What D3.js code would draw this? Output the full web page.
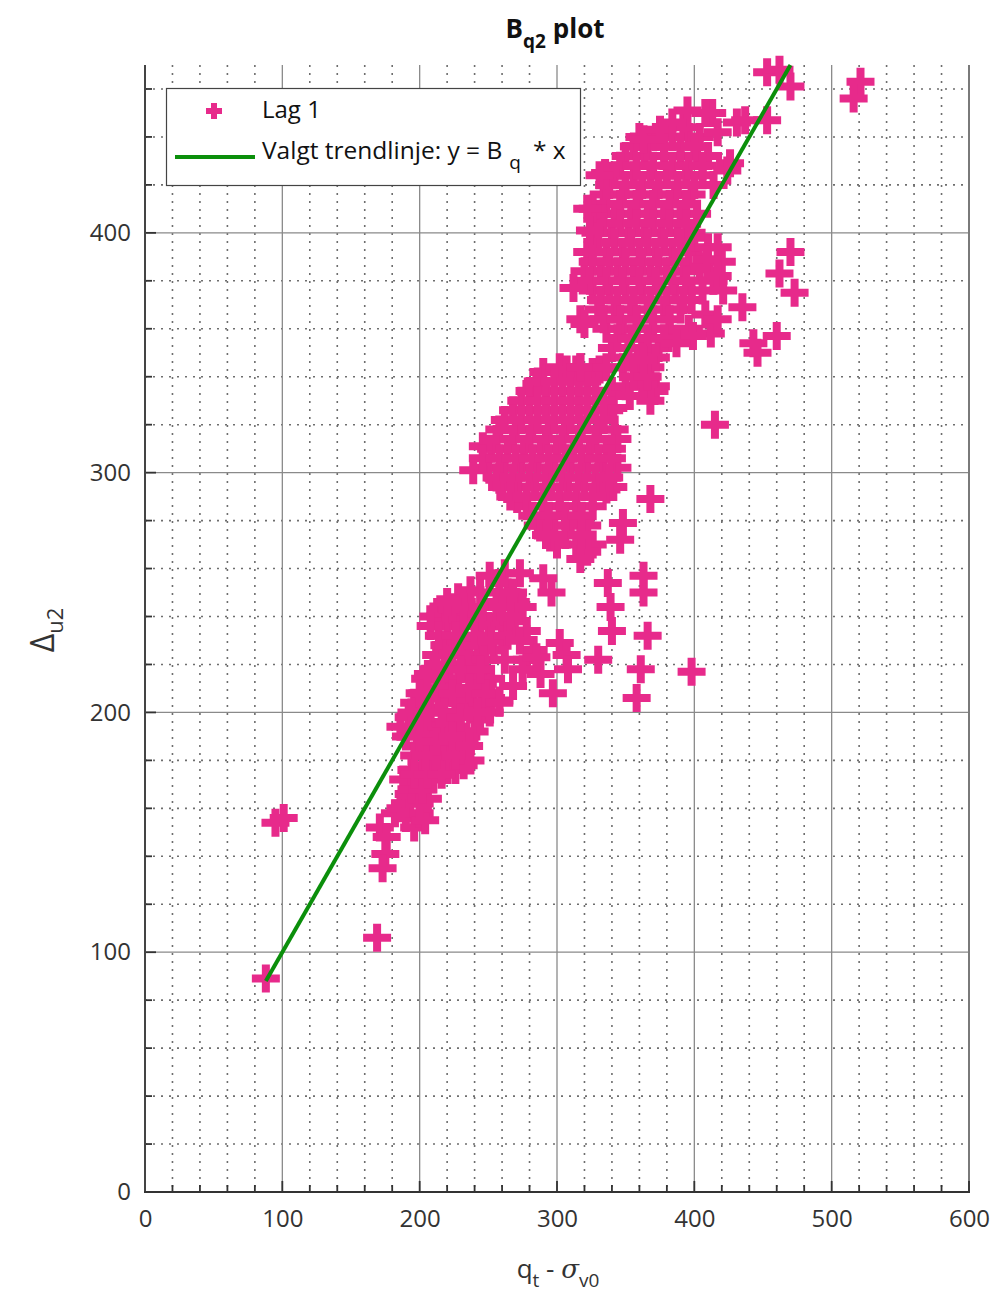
<!DOCTYPE html>
<html><head><meta charset="utf-8">
<script src="https://cdn.jsdelivr.net/npm/d3@7"></script>
<style>body{margin:0;background:#fff}</style>
</head><body><svg id="c" width="1007" height="1292"></svg>
<script>
const xTickValues = [0, 100, 200, 300, 400, 500, 600];
const yTickValues = [0, 100, 200, 300, 400];
const xDomain = [0, 600];
const yDomain = [0, 470];
const trendX = [88, 470];
const Bq = 1.0;
const seriesName = "Lag 1";

// Lag 1 points: [q_t - sigma_v0, Delta_u2]
const lagIsolated = [[88,89],[95,154],[101,156],[169,106],[171,152],[175,141],[173,135],[176,148],[182,158]];
const lagLower = [
 [186,160],[190,156],[196,152],[200,158],[204,155],[192,166],[198,170],[206,164],[188,172],[194,176],[202,178],[210,172],
 [200,186],[208,184],[214,180],[220,176],[226,176],[232,178],[237,180],[218,186],[224,188],[230,184],
 [186,194],[192,198],[198,192],[204,196],[210,190],[216,194],[222,196],[228,192],[234,190],[240,192],[244,197],
 [196,204],[202,208],[208,202],[214,206],[220,210],[226,204],[232,206],[238,202],[246,204],[252,206],[258,205],
 [204,214],[210,218],[216,214],[222,218],[228,214],[234,220],[240,216],[246,212],[252,214],[251,200],
 [212,224],[218,228],[224,226],[230,230],[236,224],[242,228],[248,222],[254,226],[260,230],
 [215,243],[210,240],[220,238],[226,240],[232,236],[238,242],[244,238],[250,236],[256,240],[262,236],[268,238],
 [228,248],[237,251],[244,250],[251,257],[258,254],[264,250],[270,246],[262,258],[256,246],[208,236],[224,243]
];
const lagLowerFill = [
 [190,162],[200,162],[194,168],[202,168],[196,174],[206,174],[216,174],[196,182],[204,182],[212,182],[226,182],
 [190,190],[200,190],[212,188],[224,190],[236,186],[194,200],[206,200],[218,200],[230,198],[242,200],
 [200,208],[212,210],[224,208],[236,210],[248,208],[206,216],[218,220],[230,218],[244,218],
 [214,232],[226,232],[240,232],[252,230],[264,232],[232,244],[246,244],[260,244],[220,246]
];
const lagLowerRight = [
 [290,256],[296,250],[337,254],[363,257],[363,250],[339,244],[340,234],[366,232],[302,229],[307,224],
 [330,222],[308,218],[361,218],[398,217],[297,208],[358,206],[278,222],[283,226],[288,216],[275,218],
 [285,223],[273,258],[268,250],[275,244],[266,240],[278,234],[273,230],[258,204],[268,211],[262,222]
];
const lagMiddle = [
 [290,342],[302,344],[314,343],[326,342],[307,343],[317,344],[331,343],[285,337],
 [280,334],[292,334],[304,334],[316,334],[328,334],[340,334],
 [268,326],[280,326],[292,326],[304,326],[316,326],[328,326],[338,326],[341,327],
 [258,318],[270,318],[282,318],[294,318],[306,318],[318,318],[330,318],[342,318],
 [252,310],[264,310],[276,310],[288,310],[300,310],[312,310],[324,310],[336,310],[246,311],[344,314],
 [250,302],[262,302],[274,302],[286,302],[298,302],[310,302],[322,302],[334,302],[344,302],[239,301],
 [258,297],[260,294],[272,294],[284,294],[296,294],[308,294],[320,294],[332,294],[336,293],[341,294],
 [271,289],[278,286],[290,286],[302,286],[314,286],[326,286],[368,289],
 [286,278],[298,278],[310,278],[322,278],[290,279],[317,279],[348,279],
 [300,270],[314,270],[326,270],[295,273],[346,272],[322,267],[317,264]
];
const lagMiddleFill = [
 [286,338],[298,338],[310,338],[322,338],
 [274,330],[286,330],[298,330],[310,330],[322,330],[334,330],
 [262,322],[274,322],[286,322],[298,322],[310,322],[322,322],[334,322],
 [256,314],[268,314],[280,314],[292,314],[304,314],[316,314],[328,314],[340,310],
 [246,306],[258,306],[270,306],[282,306],[294,306],[306,306],[318,306],[330,306],[340,306],
 [256,298],[268,298],[280,298],[292,298],[304,298],[316,298],[328,298],[338,298],
 [266,290],[278,290],[290,290],[302,290],[314,290],[326,290],
 [282,282],[294,282],[306,282],[318,282],[292,274],[306,274],[318,274]
];
const lagUpper = [
 [360,440],[372,440],[384,440],[396,440],[404,440],[392,444],
 [350,432],[364,432],[378,432],[390,432],[402,432],[410,432],
 [342,424],[356,424],[368,424],[380,424],[394,424],[406,424],
 [334,416],[348,416],[360,416],[372,416],[386,416],[398,416],
 [330,408],[342,408],[354,408],[366,408],[378,408],[390,408],[402,408],
 [328,400],[340,400],[352,400],[364,400],[376,400],[388,400],[398,400],
 [322,392],[336,392],[348,392],[360,392],[372,392],[384,392],[396,392],
 [320,384],[332,384],[344,384],[356,384],[368,384],[380,384],[392,384],
 [326,376],[338,376],[350,376],[362,376],[374,376],[386,376],[398,376],
 [330,368],[342,368],[354,368],[366,368],[378,368],[390,368],
 [336,360],[348,360],[358,360],[370,360],[382,360],
 [340,352],[352,352],[362,352],[374,352],
 [348,344],[358,344],[368,344],[350,336],[362,336],[372,336],[353,332],[371,334],[368,330],[366,351],[363,337],
 [400,398],[410,394],[404,386],[414,380],[398,372],[408,366],[420,388],[396,360],[412,358]
];
const lagUpperFill = [
 [356,436],[366,436],[378,436],[390,436],[400,436],
 [346,428],[358,428],[370,428],[384,428],[396,428],[406,428],
 [338,420],[350,420],[362,420],[374,420],[388,420],[400,420],
 [336,412],[346,412],[358,412],[370,412],[382,412],[394,412],
 [334,404],[346,404],[358,404],[370,404],[382,404],[394,404],
 [330,396],[342,396],[354,396],[366,396],[378,396],[390,396],
 [326,388],[338,388],[350,388],[362,388],[374,388],[386,388],
 [324,380],[336,380],[348,380],[360,380],[372,380],[384,380],[394,380],
 [332,372],[344,372],[356,372],[368,372],[380,372],[392,372],
 [334,364],[346,364],[358,364],[370,364],[382,364],
 [344,356],[354,356],[366,356],[378,356],[352,348],[362,348],[372,348],[356,340],[366,340]
];
const lagUpperEdge = [
 [453,467],[470,461],[521,463],[516,456],[431,446],[453,447],[413,450],[395,451],[417,442],[426,429],
 [363,439],[335,425],[326,410],[375,443],[384,446],[414,420],[417,394],[409,389],[417,382],[406,376],
 [421,376],[470,392],[462,383],[473,375],[435,369],[417,364],[399,357],[387,354],[443,354],[460,357],
 [446,350],[317,364],[312,377],[322,410],[326,392],[317,344],[336,344],[363,347],[415,320],[331,424],
 [324,401],[320,362],[408,450],[424,426],[437,447],[462,468]
];

const plot = {left: 145, right: 969, top: 65, bottom: 1192};
const pink = "#e72a8b", green = "#0b8f0b", textCol = "#333";
const fontFam = "'Open Sans', 'Noto Sans', sans-serif";

const svg = d3.select("#c");
const x = d3.scaleLinear().domain(xDomain).range([plot.left, plot.right]);
const y = d3.scaleLinear().domain(yDomain).range([plot.bottom, plot.top]);

// grid
const g = svg.append("g");
const xMinor = d3.range(20, 600, 20).filter(v => v % 100 !== 0);
const yMinor = d3.range(20, 471, 20).filter(v => v % 100 !== 0);
g.selectAll(".xm").data(xMinor).join("line")
  .attr("x1", d => x(d)).attr("x2", d => x(d)).attr("y1", plot.top).attr("y2", plot.bottom)
  .attr("stroke", "#6e6e6e").attr("stroke-width", 1.6).attr("stroke-dasharray", "2,6");
g.selectAll(".ym").data(yMinor).join("line")
  .attr("y1", d => y(d)).attr("y2", d => y(d)).attr("x1", plot.left).attr("x2", plot.right)
  .attr("stroke", "#6e6e6e").attr("stroke-width", 1.6).attr("stroke-dasharray", "2,6");
g.selectAll(".xM").data(xTickValues.slice(1, -1)).join("line")
  .attr("x1", d => x(d)).attr("x2", d => x(d)).attr("y1", plot.top).attr("y2", plot.bottom)
  .attr("stroke", "#8a8a8a").attr("stroke-width", 1.3);
g.selectAll(".yM").data(yTickValues.slice(1)).join("line")
  .attr("y1", d => y(d)).attr("y2", d => y(d)).attr("x1", plot.left).attr("x2", plot.right)
  .attr("stroke", "#8a8a8a").attr("stroke-width", 1.3);

// right border
svg.append("line").attr("x1", plot.right).attr("x2", plot.right).attr("y1", plot.top).attr("y2", plot.bottom)
  .attr("stroke", "#7a7a7a").attr("stroke-width", 2);

// points
const allPts = [].concat(lagIsolated, lagLower, lagLowerFill, lagLowerRight, lagMiddle, lagMiddleFill, lagUpper, lagUpperFill, lagUpperEdge);
svg.append("g").selectAll("path").data(allPts).join("path")
  .attr("transform", d => `translate(${x(d[0])},${y(d[1])})`)
  .attr("d", "M-14,0H14M0,-14V14")
  .attr("stroke", pink).attr("stroke-width", 8).attr("fill", "none");

// trend line
svg.append("line")
  .attr("x1", x(trendX[0])).attr("y1", y(Bq * trendX[0]))
  .attr("x2", x(trendX[1])).attr("y2", y(Bq * trendX[1]))
  .attr("stroke", green).attr("stroke-width", 4);

// axes
const yAxis = d3.axisLeft(y).tickValues(yTickValues).tickSize(0).tickPadding(14).tickFormat(d3.format("d"));
const xAxis = d3.axisBottom(x).tickValues(xTickValues).tickSize(0).tickPadding(18).tickFormat(d3.format("d"));
const ya = svg.append("g").attr("transform", `translate(${plot.left},0)`).call(yAxis);
const xa = svg.append("g").attr("transform", `translate(0,${plot.bottom})`).call(xAxis);
[ya, xa].forEach(a => {
  a.select(".domain").remove();
  a.selectAll("text").attr("font-family", fontFam).attr("font-size", 24).attr("fill", textCol);
});
// ticks inward
const yTicksAll = d3.range(0, 471, 20);
svg.append("g").selectAll("line").data(yTicksAll).join("line")
  .attr("x1", plot.left).attr("x2", d => plot.left + (d % 100 === 0 ? 11 : 7))
  .attr("y1", d => y(d)).attr("y2", d => y(d)).attr("stroke", "#333").attr("stroke-width", 1.8);
const xTicksAll = d3.range(0, 601, 20);
svg.append("g").selectAll("line").data(xTicksAll).join("line")
  .attr("y1", plot.bottom).attr("y2", d => plot.bottom - (d % 100 === 0 ? 11 : 7))
  .attr("x1", d => x(d)).attr("x2", d => x(d)).attr("stroke", "#333").attr("stroke-width", 1.8);
svg.append("line").attr("x1", plot.left).attr("x2", plot.left).attr("y1", plot.top).attr("y2", plot.bottom + 1)
  .attr("stroke", "#444").attr("stroke-width", 2);
svg.append("line").attr("x1", plot.left - 1).attr("x2", plot.right + 1).attr("y1", plot.bottom).attr("y2", plot.bottom)
  .attr("stroke", "#333").attr("stroke-width", 2.2);

// title
const title = svg.append("text").attr("x", 555).attr("y", 38).attr("text-anchor", "middle")
  .attr("font-family", fontFam).attr("font-weight", "bold").attr("font-size", 26).attr("fill", "#111");
title.append("tspan").text("B");
title.append("tspan").attr("dy", 10).attr("font-size", 19).text("q2");
title.append("tspan").attr("dy", -10).attr("dx", 7).text("plot");

// x label
const xl = svg.append("text").attr("x", 558).attr("y", 1278).attr("text-anchor", "middle")
  .attr("font-family", fontFam).attr("font-size", 26).attr("fill", textCol);
xl.append("tspan").text("q");
xl.append("tspan").attr("dy", 9).attr("font-size", 19).text("t");
xl.append("tspan").attr("dy", -9).text(" - ");
xl.append("tspan").attr("font-style", "italic").attr("font-family", "'DejaVu Serif', serif").text("σ");
xl.append("tspan").attr("dy", 9).attr("font-size", 19).text("v0");

// y label
const yl = svg.append("text").attr("transform", "translate(54,630) rotate(-90)").attr("text-anchor", "middle")
  .attr("font-family", fontFam).attr("font-size", 32).attr("fill", textCol);
yl.append("tspan").text("Δ");
yl.append("tspan").attr("dy", 9).attr("font-size", 22).text("u2");

// legend
const lg = svg.append("g");
lg.append("rect").attr("x", 166.5).attr("y", 88.5).attr("width", 414).attr("height", 97)
  .attr("fill", "#fff").attr("stroke", "#444").attr("stroke-width", 1.2);
lg.append("path").attr("transform", "translate(214,111)").attr("d", "M-8,0H8M0,-8V8")
  .attr("stroke", pink).attr("stroke-width", 6);
lg.append("text").attr("x", 262).attr("y", 118).attr("font-family", fontFam).attr("font-size", 24)
  .attr("fill", "#111").text(seriesName);
lg.append("line").attr("x1", 175).attr("x2", 255).attr("y1", 157).attr("y2", 157)
  .attr("stroke", green).attr("stroke-width", 4);
const lt = lg.append("text").attr("x", 262).attr("y", 159).attr("font-family", fontFam).attr("font-size", 24.5).attr("fill", "#111");
lt.append("tspan").text("Valgt trendlinje: y = B");
lt.append("tspan").attr("dy", 10).attr("dx", 7).attr("font-size", 19).text("q");
lt.append("tspan").attr("dy", -10).attr("dx", 12).text("* x");
</script>
</body></html>
